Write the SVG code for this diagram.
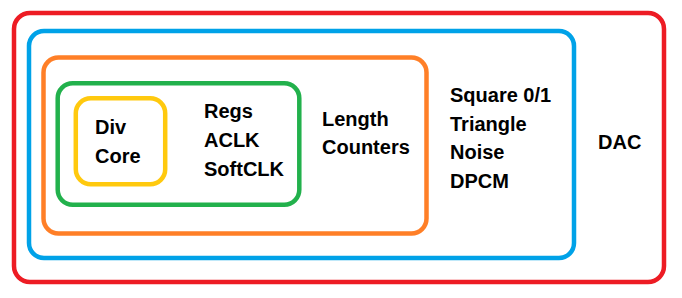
<svg xmlns="http://www.w3.org/2000/svg" width="682" height="298" viewBox="0 0 682 298">
  <style>
    .box { fill: none; stroke-width: 4.5; }
    .label { font-family: "Liberation Sans", Arial, sans-serif; font-weight: bold; font-size: 20px; fill: #000; }
  </style>
  <rect width="682" height="298" fill="#fff"/>

  <!-- nested blocks, outermost first -->
  <g id="dac">
    <rect class="box" x="14" y="13" width="650" height="269" rx="16" stroke="#ed1c24"/>
    <text class="label" x="598" y="148.5">DAC</text>
  </g>

  <g id="channels">
    <rect class="box" x="29" y="31" width="545" height="227" rx="15" stroke="#00a2e8"/>
    <text class="label" x="450" y="101.7">Square 0/1</text>
    <text class="label" x="450" y="130.5">Triangle</text>
    <text class="label" x="450" y="159.3">Noise</text>
    <text class="label" x="450" y="188">DPCM</text>
  </g>

  <g id="length-counters">
    <rect class="box" x="43.5" y="57.5" width="383" height="176" rx="15" stroke="#ff7f27"/>
    <text class="label" x="322" y="126">Length</text>
    <text class="label" x="322" y="154">Counters</text>
  </g>

  <g id="regs">
    <rect class="box" x="57.7" y="83.3" width="241.6" height="121.5" rx="15" stroke="#22b14c"/>
    <text class="label" x="204" y="118.3">Regs</text>
    <text class="label" x="204" y="146.7">ACLK</text>
    <text class="label" x="204" y="176">SoftCLK</text>
  </g>

  <g id="div-core">
    <rect class="box" x="75.8" y="98.2" width="89.4" height="86" rx="15" stroke="#ffc90e"/>
    <text class="label" x="95" y="134.3">Div</text>
    <text class="label" x="95" y="163.3">Core</text>
  </g>
</svg>
